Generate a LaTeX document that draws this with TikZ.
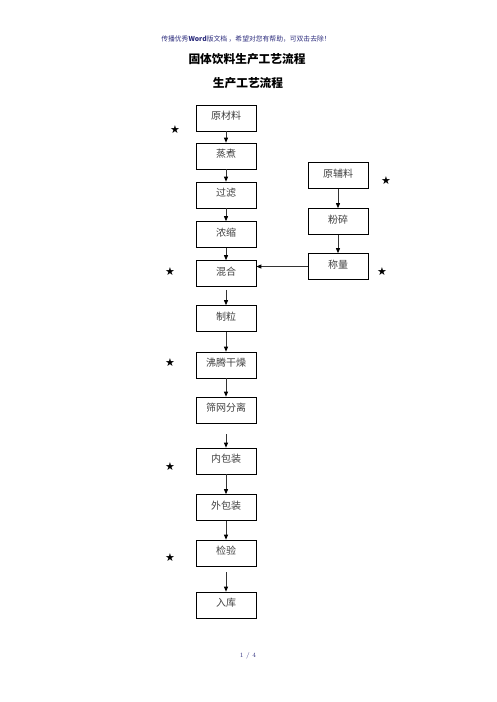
\documentclass[tikz,border=0pt]{standalone}
\usepackage{fontspec}
\usetikzlibrary{arrows.meta}
\newfontfamily\cjk{Noto Sans CJK SC}
\newfontfamily\symb{DejaVu Sans}
\definecolor{hdrblue}{RGB}{45,45,125}

\begin{document}
\begin{tikzpicture}[x=1pt,y=-1pt]
\useasboundingbox (0,0) rectangle (496,702);

\node (hdr) at (246,39) {\cjk\color{hdrblue}\fontsize{6.8}{7}\selectfont 传播优秀\textbf{Word}版文档 ，希望对您有帮助，可双击去除！};
\node (title) at (247,59) {\cjk\bfseries\fontsize{11.7}{13}\selectfont 固体饮料生产工艺流程};
\node (sub) at (248,83) {\cjk\bfseries\fontsize{11.7}{13}\selectfont 生产工艺流程};
\node (pg) at (248,656) {\color{hdrblue}\fontsize{6.5}{7}\selectfont 1 / 4};

\begin{scope}[every node/.style={draw,line width=0.7pt,minimum width=60pt,minimum height=26pt,
              text height=9.5pt,text depth=6pt,text=black!75,font=\cjk\fontsize{10}{12}\selectfont}]
    \node (R)  at (226,118)   {原材料};
    \node (S)  at (226,156)   {蒸煮};
    \node (F)  at (226,195)   {过滤};
    \node (C)  at (226,234.5) {浓缩};
    \node (M)  at (226,273.5) {混合};
    \node (G)  at (226,318.5) {制粒};
    \node (D)  at (226,365)   {沸腾干燥};
    \node (X)  at (226,410)   {筛网分离};
    \node (P1) at (226,461)   {内包装};
    \node (P2) at (226,507.5) {外包装};
    \node (T)  at (226,553)   {检验};
    \node (W)  at (226,605)   {入库};
    \node (A)  at (338,175.5) {原辅料};
    \node (K)  at (338,221.5) {粉碎};
    \node (L)  at (338,266.5) {称量};
\end{scope}

\begin{scope}[every node/.style={font=\symb\fontsize{11}{12}\selectfont}]
    \node (s1) at (175,130) {★};
    \node (s2) at (170,272) {★};
    \node (s3) at (170,363) {★};
    \node (s4) at (170,467) {★};
    \node (s5) at (170,558) {★};
    \node (s6) at (386,181) {★};
    \node (s7) at (382,272) {★};
\end{scope}

\begin{scope}[>={Triangle[black,length=5pt,width=4pt]},
              every edge/.style={draw=black!80,line width=0.8pt}]
    \path [->] (R) edge (S);
    \path [->] (S) edge (F);
    \path [->] (F) edge (C);
    \path [->] (C) edge (M);
    \path [->] (M) edge [shorten <=3pt] (G);
    \path [->] (G) edge (D);
    \path [->] (D) edge (X);
    \path [->] (X) edge [shorten <=11pt] (P1);
    \path [->] (P1) edge (P2);
    \path [->] (P2) edge (T);
    \path [->] (T) edge [shorten <=6pt] (W);
    \path [->] (A) edge (K);
    \path [->] (K) edge (L);
    \path [->] (L.west) edge (L.west -| M.east);
\end{scope}
\end{tikzpicture}
\end{document}
